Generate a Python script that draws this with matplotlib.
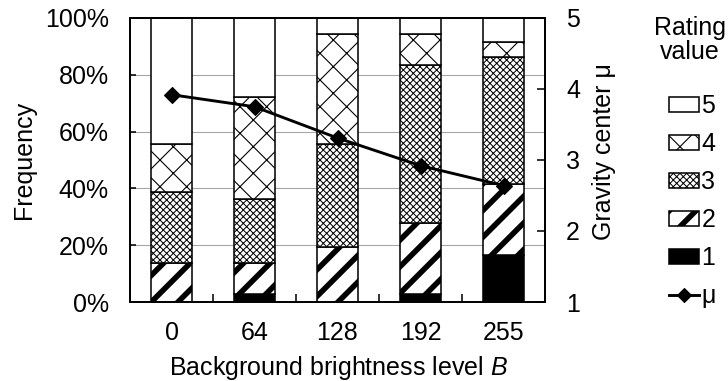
import numpy as np
import matplotlib.pyplot as plt
from matplotlib.patches import Patch
from matplotlib.lines import Line2D
from matplotlib.ticker import PercentFormatter, FixedLocator

plt.rcParams['font.family'] = ['Liberation Sans', 'DejaVu Sans']
plt.rcParams['mathtext.fontset'] = 'custom'
plt.rcParams['mathtext.rm'] = 'Liberation Sans'
plt.rcParams['mathtext.it'] = 'Liberation Sans:italic'

levels = ['0', '64', '128', '192', '255']
# votes per rating value at each brightness level (36 votes per level)
r1 = [0, 1, 0, 1, 6]
r2 = [5, 4, 7, 9, 9]
r3 = [9, 8, 13, 20, 16]
r4 = [6, 13, 14, 4, 2]
r5 = [16, 10, 2, 2, 3]
n_votes = 36
mu = [3.92, 3.75, 3.31, 2.92, 2.64]

ratings = [r1, r2, r3, r4, r5]
rating_names = ['1', '2', '3', '4', '5']
# facecolor, hatch, hatch linewidth
looks = [('black', None, 1.0),
         ('white', '/', 5.0),
         ('white', 'xxxx', 0.9),
         ('white', 'x', 1.0),
         ('white', None, 1.0)]

W, H = 728, 381
fs = 22.5
fig = plt.figure(figsize=(W / 80, H / 80), dpi=80)
ax = fig.add_axes([130 / W, 1 - 302 / H, 415 / W, 284 / H])


def hatched(p, hlw):
    if hasattr(p, 'set_hatch_linewidth'):
        p.set_hatch_linewidth(hlw)


x = np.arange(len(levels))
bottom = np.zeros(len(levels))
for counts, (fc, hatch, hlw) in zip(ratings, looks):
    freq = np.array(counts) / n_votes
    with plt.rc_context({'hatch.linewidth': hlw}):
        bars = ax.bar(x, freq, 0.49, bottom=bottom, color=fc, edgecolor='black',
                      linewidth=1.4, hatch=hatch, zorder=2)
    for b in bars:
        hatched(b, hlw)
    bottom += freq

ax.set_xlim(-0.5, len(levels) - 0.5)
ax.set_ylim(0, 1)
ax.set_yticks(np.arange(0, 1.01, 0.2))
ax.yaxis.set_major_formatter(PercentFormatter(1.0, decimals=0))
ax.yaxis.grid(True, color='#a6a6a6', lw=1.0)
ax.set_axisbelow(True)
ax.set_xticks(x)
ax.set_xticklabels(levels)
ax.xaxis.set_minor_locator(FixedLocator(np.arange(0.5, len(levels) - 1, 1.0)))
ax.tick_params(axis='x', which='major', length=0, pad=17, labelsize=fs)
ax.tick_params(axis='x', which='minor', direction='in', length=7, width=1.4)
ax.tick_params(axis='y', direction='in', length=5, width=1.4, pad=19, labelsize=fs)

ax2 = ax.twinx()
ax2.plot(x, mu, color='black', lw=2.6, marker='D', ms=10, zorder=3)
ax2.set_ylim(1, 5)
ax2.set_yticks([1, 2, 3, 4, 5])
ax2.tick_params(axis='y', direction='in', length=7, width=1.4, pad=19, labelsize=fs)

for a in (ax, ax2):
    for s in a.spines.values():
        s.set_linewidth(1.6)
        s.set_color('black')

fig.text(24 / W, 1 - 160 / H, 'Frequency', rotation=90, ha='center', va='center', fontsize=fs)
fig.text(604 / W, 1 - 152 / H, 'Gravity center μ', rotation=90, ha='center', va='center', fontsize=fs)
fig.text(338 / W, 1 - 375 / H, 'Background brightness level $B$', ha='center', va='baseline', fontsize=fs)
fig.text(690 / W, 1 - 40 / H, 'Rating\nvalue', ha='center', va='center', fontsize=fs, linespacing=1.05)

handles = []
labels = []
legend_hlw = []
for name, (fc, hatch, hlw) in reversed(list(zip(rating_names, looks))):
    handles.append(Patch(facecolor=fc, edgecolor='black', hatch=hatch, lw=1.4))
    labels.append(name)
    legend_hlw.append(hlw)
handles.append(Line2D([], [], color='black', lw=2.6, marker='D', ms=9))
labels.append('μ')

leg = fig.legend(handles, labels, loc='upper left', bbox_to_anchor=(669 / W, 1 - 94 / H),
                 frameon=False, fontsize=fs, handlelength=1.2, handleheight=0.55,
                 handletextpad=0.1, labelspacing=0.56, borderpad=0, borderaxespad=0)
# legend boxes are new patches, so give them the hatch widths again
for h, hlw in zip(leg.legend_handles, legend_hlw):
    hatched(h, hlw)

fig.savefig('out.png', dpi=80)
